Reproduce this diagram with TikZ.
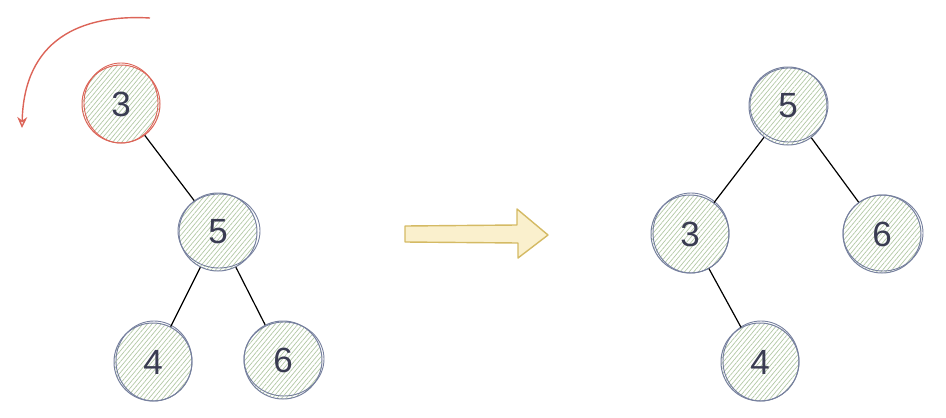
\documentclass[tikz,border=0pt]{standalone}
\usepackage{fontspec}
\setmainfont{Liberation Sans}
\usetikzlibrary{patterns,patterns.meta,arrows.meta}
\definecolor{nodeline}{RGB}{118,128,158}
\definecolor{hatch}{RGB}{178,200,165}
\definecolor{txt}{RGB}{58,60,82}
\definecolor{redc}{RGB}{220,100,88}
\definecolor{yell}{RGB}{212,186,100}
\definecolor{yfill}{RGB}{250,240,205}
\tikzset{
  tnode/.style={circle, minimum size=78pt, inner sep=0pt, draw=nodeline, line width=1pt,
    pattern={Lines[angle=50,distance=3.5pt,line width=0.7pt]}, pattern color=hatch,
    text=txt, font=\fontsize{35}{35}\selectfont},
  redn/.style={tnode, draw=redc},
  edge/.style={draw=black, line width=1.2pt},
}
\begin{document}
\begin{tikzpicture}[x=1pt,y=-1pt]
\useasboundingbox (0,0) rectangle (946,418);
% left tree
\node[redn] (l3) at (121,104) {3};
\node[tnode] (l5) at (218,232) {5};
\node[tnode] (l4) at (153,362) {4};
\node[tnode] (l6) at (283,360) {6};
% sketchy second strokes
\draw[redc, line width=0.9pt] (121,103) ellipse (37pt and 40pt);
\draw[nodeline, line width=0.9pt] (219,231) ellipse (41pt and 37pt);
\draw[nodeline, line width=0.9pt] (154,361) ellipse (38pt and 40pt);
\draw[nodeline, line width=0.9pt] (284,359) ellipse (40pt and 37pt);
\draw[edge] (l3) -- (l5);
\draw[edge] (l5) -- (l4);
\draw[edge] (l5) -- (l6);
% red rotation arrow
\coordinate (rs) at (150,18);
\coordinate (re) at (22,128);
\draw[redc, line width=1.4pt, -{Stealth[open,length=11pt,width=10pt]}]
  (rs) .. controls (80,14) and (24,40) .. (re);
% yellow arrow
\coordinate (ya) at (405,226);
\draw[yell, line width=1.4pt, fill=yfill, line join=round]
  (ya) -- (517,225) -- (517,209) -- (548,235) -- (518,258) -- (518,243) -- (405,242) -- cycle;
% right tree
\node[tnode] (r5) at (788,106) {5};
\node[tnode] (r3) at (690,234) {3};
\node[tnode] (r6) at (882,234) {6};
\node[tnode] (r4) at (760,362) {4};
\draw[nodeline, line width=0.9pt] (789,105) ellipse (39pt and 37pt);
\draw[nodeline, line width=0.9pt] (691,233) ellipse (38pt and 40pt);
\draw[nodeline, line width=0.9pt] (883,233) ellipse (40pt and 38pt);
\draw[nodeline, line width=0.9pt] (761,361) ellipse (38pt and 40pt);
\draw[edge] (r5) -- (r3);
\draw[edge] (r5) -- (r6);
\draw[edge] (r3) -- (r4);
\end{tikzpicture}
\end{document}
